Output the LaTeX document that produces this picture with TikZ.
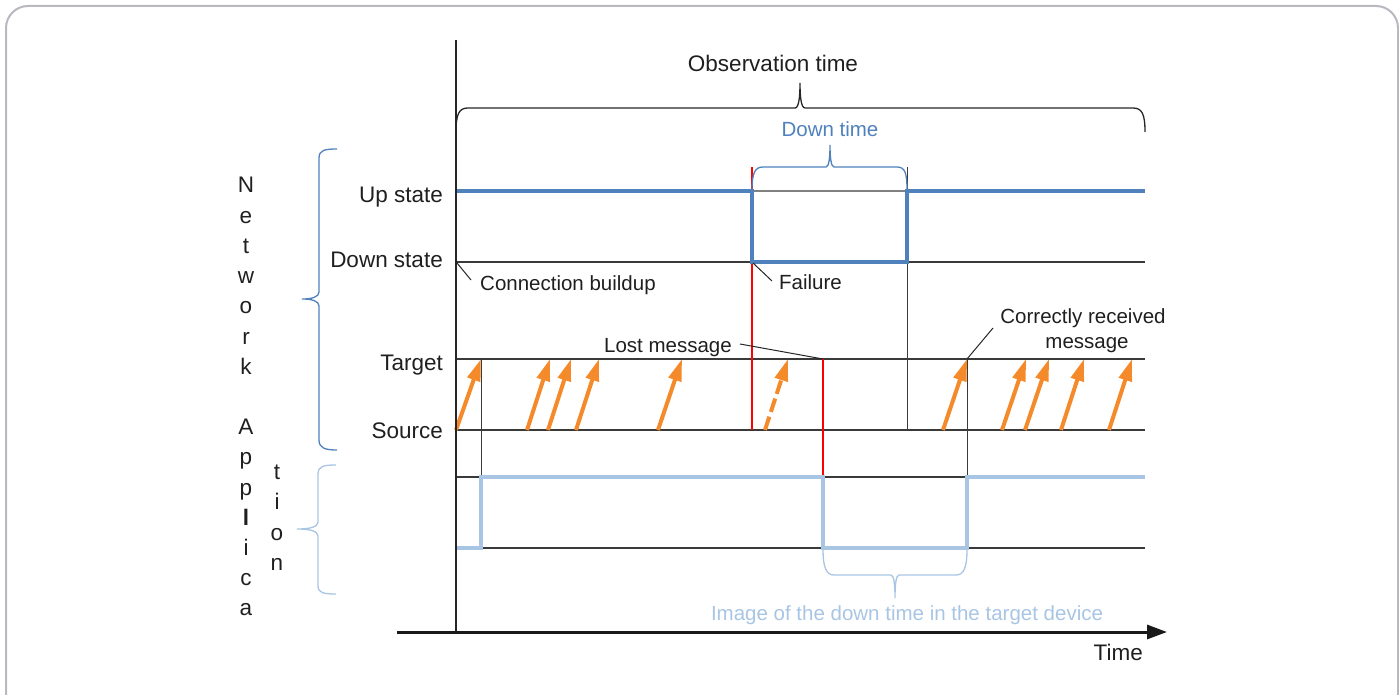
\documentclass[tikz,border=0pt]{standalone}
\usepackage{fontspec}
\setmainfont{Liberation Sans}
\usetikzlibrary{arrows.meta}
\definecolor{netblue}{HTML}{4F81BD}
\definecolor{appblue}{HTML}{A8C5E4}
\definecolor{msgorange}{HTML}{F58A2B}
\definecolor{gridgray}{HTML}{3A3A3A}
\definecolor{framegray}{HTML}{B8B8C0}

\begin{document}
\begin{tikzpicture}[x=1pt,y=-1pt,
  gridline/.style={draw=gridgray, line width=1.2pt},
  netline/.style={draw=netblue, line width=4.8pt},
  appline/.style={draw=appblue, line width=4.8pt},
  msg/.style={draw=msgorange, line width=4pt, -{Triangle[length=22pt,width=13pt]}},
  lostmsg/.style={msg, dash pattern=on 14pt off 5pt},
  marker/.style={draw=red, line width=1.1pt},
  guide/.style={draw=gridgray, line width=1pt},
  axislabel/.style={font=\fontsize{22.5}{27}\selectfont, inner sep=0pt, text=black!88},
  note/.style={font=\fontsize{20.5}{25}\selectfont, inner sep=0pt, text=black!88},
  leader/.style={draw=black!85, line width=1pt},
  bracepath/.style={line width=1.3pt}
]
\useasboundingbox (0,0) rectangle (1399,695);
\begin{scope}
  \clip (0,0) rectangle (1399,695);
  \draw[framegray, line width=2pt, rounded corners=22pt] (6,6) rectangle (1398,760);
\end{scope}

% ---- level lines ----
\foreach \yy in {262, 359, 430, 477, 548}
  \draw[gridline] (456,\yy) -- (1145,\yy);
\draw[draw=gray, line width=1.1pt] (752,191) -- (907,191);

% ---- event guides ----
\draw[marker] (752,167) -- (752,430);
\draw[guide] (907,167) -- (907,430);
\draw[marker] (823,359) -- (823,549);
\draw[guide] (481,359) -- (481,477);
\draw[guide] (967,359) -- (967,477);

% ---- network state ----
\draw[netline] (456,191) -- (752,191) -- (752,262) -- (907,262) -- (907,191) -- (1145,191);

% ---- application state ----
\draw[appline] (456,548) -- (481,548) -- (481,477) -- (823,477) -- (823,548) -- (967,548) -- (967,477) -- (1145,477);

% ---- messages from source to target ----
\foreach \xs/\xt in {456/481, 527/550, 548/571, 576/599, 658/682, 943/967, 1002/1026, 1025/1049, 1061/1084, 1109/1132}
  \draw[msg] (\xs,430) -- (\xt,359);
\draw[lostmsg] (765,430) -- (788,359);

% ---- axes ----
\draw[black!85, line width=1.6pt] (456,40) -- (456,632);
\draw[black!90, line width=3pt, -{Triangle[length=20pt,width=14pt]}] (397,632) -- (1167,632);

% ---- braces ----
\draw[bracepath, black!85] (456,132) .. controls (456,114) and (459,108) .. (468,108) -- (795,108)
  .. controls (799,108) and (800,96) .. (800,83) .. controls (800,96) and (801,108) .. (805,108)
  -- (1133,108) .. controls (1142,108) and (1145,114) .. (1145,132);
\draw[bracepath, netblue] (752,190) .. controls (752,173) and (755,167) .. (763,167) -- (826,167)
  .. controls (829,167) and (830,157) .. (830,145) .. controls (830,157) and (831,167) .. (834,167)
  -- (897,167) .. controls (905,167) and (907,173) .. (907,190);
\draw[bracepath, appblue] (823,549) .. controls (823,567) and (826,575) .. (834,575) -- (891,575)
  .. controls (894,575) and (895,585) .. (895,598) .. controls (895,585) and (896,575) .. (899,575)
  -- (956,575) .. controls (964,575) and (967,567) .. (967,549);
\draw[bracepath, netblue] (337,149) .. controls (325,149) and (319,150) .. (319,158) -- (319,292)
  .. controls (319,297) and (312,299) .. (302,299) .. controls (312,299) and (319,301) .. (319,306)
  -- (319,440) .. controls (319,448) and (325,450) .. (337,450);
\draw[bracepath, appblue] (336,465) .. controls (324,465) and (318,466) .. (318,474) -- (318,522)
  .. controls (318,527) and (310,529) .. (297,529) .. controls (310,529) and (318,531) .. (318,536)
  -- (318,586) .. controls (318,593) and (324,594) .. (336,594);

% ---- level labels ----
\node[axislabel, anchor=base east] (lup) at (443,203) {Up state};
\node[axislabel, anchor=base east] (ldown) at (443,267) {Down state};
\node[axislabel, anchor=base east] (ltarget) at (443,370) {Target};
\node[axislabel, anchor=base east] (lsource) at (443,438) {Source};
\node[axislabel, anchor=base] (lobs) at (773,72) {Observation time};
\node[axislabel, anchor=base east] (ltime) at (1143,660) {Time};
\node[note, anchor=base, text=netblue] (ldt) at (830,137) {Down time};
\node[note, anchor=base, text=appblue] (limg) at (907,620) {Image of the down time in the target device};

% ---- annotations ----
\coordinate (cb) at (457,263);
\node[note, anchor=base west] (lcb) at (480,290) {Connection buildup};
\draw[leader] (cb) -- (471,280);
\coordinate (fl) at (753,263);
\node[note, anchor=base west] (lfl) at (779,289) {Failure};
\draw[leader] (fl) -- (772,281);
\coordinate (lm) at (823,359);
\node[note, anchor=base east] (llm) at (732,352) {Lost message};
\draw[leader] (lm) -- (740,344);
\coordinate (cr) at (967,359);
\node[note, anchor=base] (lcr1) at (1083,323) {Correctly received};
\node[note, anchor=base] (lcr2) at (1087,348) {message};
\draw[leader] (cr) -- (993,328);

% ---- vertical group labels ----
\foreach \ch [count=\i from 0] in {N,e,t,w,o,r,k}
  \node[axislabel, anchor=base, name=net\i] at (246,{193+\i*30.2}) {\ch};
\foreach \ch [count=\i from 8] in {A,p,p,\textbf{l},i,c,a}
  \node[axislabel, anchor=base, name=app\i] at (246,{193+\i*30.2}) {\ch};
\foreach \ch [count=\i from 0] in {t,i,o,n}
  \node[axislabel, anchor=base, name=tion\i] at (277,{479+\i*30.5}) {\ch};
\end{tikzpicture}
\end{document}
